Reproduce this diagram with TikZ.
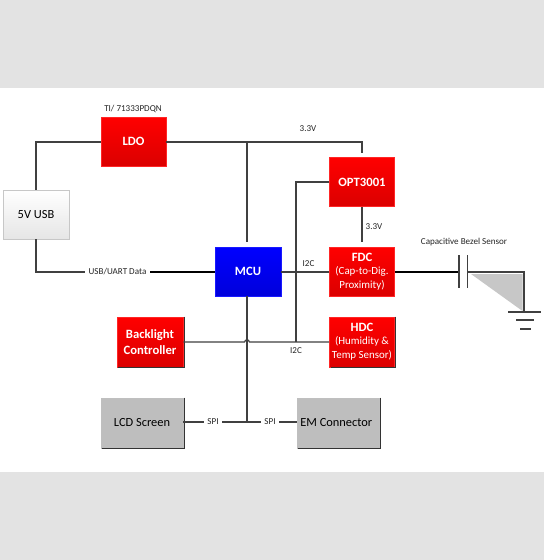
\documentclass[tikz,border=0pt]{standalone}
\usepackage{fontspec}
\setmainfont{Carlito}
\usetikzlibrary{calc}
\definecolor{bandgray}{HTML}{E3E3E3}
\definecolor{wire}{HTML}{404040}
\definecolor{boxgray}{HTML}{BEBEBE}
\newcommand{\redsubfont}{\fontsize{8.2}{10}\selectfont\mdseries}
\tikzset{
  x=0.75pt,y=-0.75pt,
  wirepath/.style={draw=wire,line width=0.9pt},
  redbox/.style={draw=red!85!white,line width=0.4pt,top color=red,bottom color=red!86!black,text=white,font=\fontsize{9.5}{11.4}\selectfont\bfseries,align=center,inner sep=0pt,anchor=center},
  graybox/.style={draw=black!25,line width=0.6pt,fill=boxgray,text=black,font=\fontsize{9.3}{11}\selectfont,align=center,inner sep=0pt},
  whitebox/.style={draw=black!22,line width=0.5pt,top color=white,bottom color=black!10,text=black,font=\fontsize{9.3}{11}\selectfont,align=center,inner sep=0pt},
  edgeshadow/.style={draw=black!80,line width=0.8pt},
  wirelabel/.style={font=\fontsize{6.8}{8}\selectfont,text=black!85,inner sep=0pt},
  bandfill/.style={fill=bandgray,draw=none}
}
\begin{document}
\begin{tikzpicture}
\useasboundingbox (0,0) rectangle (544,560);
\fill[white] (0,0) rectangle (544,560);
\fill[bandfill] (0,0) rectangle (544,88);
\fill[bandfill] (0,472) rectangle (544,560);

% boxes
\node[redbox,minimum width=48.75pt,minimum height=36.75pt] (ldo) at (133.5,141.5) {LDO};
\node[whitebox,minimum width=49.5pt,minimum height=36.75pt] (usb) at (36,214.5) {5V USB};
\node[draw=blue!90!white,line width=0.4pt,top color=blue,bottom color=blue!86!black,text=white,font=\fontsize{9.5}{11.4}\selectfont\bfseries,inner sep=0pt,minimum width=49.5pt,minimum height=36.75pt] (mcu) at (248,271.5) {MCU};
\node[redbox,minimum width=48.75pt,minimum height=36.75pt] (opt) at (362,182) {OPT3001};
\node[redbox,minimum width=48.75pt,minimum height=36.75pt] (fdc) at (362,271.5) {FDC\\[-1.5pt]{\redsubfont(Cap-to-Dig.}\\[-1pt]{\redsubfont Proximity)}};
\node[redbox,minimum width=48.75pt,minimum height=37.5pt] (hdc) at (362,342) {HDC\\[-1.5pt]{\redsubfont(Humidity \&}\\[-1pt]{\redsubfont Temp Sensor)}};
\node[redbox,minimum width=49.5pt,minimum height=37.5pt] (back) at (150,342) {Backlight\\Controller};
\node[graybox,minimum width=61.5pt,minimum height=37.5pt] (lcd) at (142,423) {LCD Screen};
\node[graybox,minimum width=61.5pt,minimum height=37.5pt] (em) at (338,423) {EM Connector\hspace{2.5pt}};

% shadows
\draw[edgeshadow] (back.north east) ++(0.8,0) -- ++(0,50.6) -- ++(-66,0);
\draw[edgeshadow] (hdc.north east) ++(0.8,0) -- ++(0,50.6) -- ++(-65,0);
\draw[edgeshadow] (lcd.north east) ++(0.8,0) -- ++(0,50.6) -- ++(-82,0);
\draw[edgeshadow] (em.north east) ++(0.8,0) -- ++(0,50.6) -- ++(-82,0);

% free ends
\coordinate (j1) at (247,142);
\coordinate (j2) at (362,142);
\coordinate (j3) at (362,153);
\coordinate (m1) at (247,242);
\coordinate (k1) at (296,182);
\coordinate (k2) at (296,342);
\coordinate (o2) at (362,242);
\coordinate (s1) at (247,422);
\coordinate (u1) at (36,272);
\coordinate (pa) at (459,272);
\coordinate (pb) at (467,272);
\coordinate (g0) at (524,272);
\coordinate (g1) at (524,312);

% sensor fill
\fill[black!22] (471,274) -- (522.5,274) -- (522.5,311) -- cycle;

% wires
\draw[wirepath] (usb.north) -- (36,142) -- (ldo.west |- j1);
\draw[wirepath] (ldo.east |- j1) -- (j1) -- (j2) -- (j3);
\draw[wirepath] (j1) -- (m1);
\draw[wirepath] (opt.west) -- (k1) -- (k2);
\draw[wirepath] (opt.south) -- (o2);
\draw[wirepath] (mcu.east |- u1) -- (fdc.west |- u1);
\draw[wirepath] (usb.south) -- (u1) -- (85,272);
\draw[wirepath,draw=black] (150,272) -- (mcu.west |- u1);
\draw[wirepath] (back.east |- k2) -- (244.5,342) .. controls (245.5,339) and (248.5,339) .. (249.5,342) -- (hdc.west |- k2);
\draw[wirepath] (mcu.south -| s1) -- (s1);
\draw[wirepath] (lcd.east |- s1) -- (204,422);
\draw[wirepath] (222,422) -- (261,422);
\draw[wirepath] (279,422) -- (em.west |- s1);

% capacitor and ground
\draw[wirepath,draw=black] (fdc.east |- pa) -- (pa);
\draw[wirepath] (459,255) -- (459,288);
\draw[wirepath] (467.5,255) -- (467.5,288);
\draw[wirepath] (pb) -- (g0) -- (g1);
\draw[wirepath] (508,312) -- (541,312);
\draw[wirepath] (516,320) -- (534,320);
\draw[wirepath] (520,329) -- (531,329);

% labels
\node[wirelabel] (l0) at (133,109) {TI/ 71333PDQN};
\node[wirelabel] (l1) at (308,129) {3.3V};
\node[wirelabel] (l2) at (374,227) {3.3V};
\node[wirelabel] (l3) at (117.5,272) {USB/UART Data};
\node[wirelabel] (l4) at (308.5,263.5) {I2C};
\node[wirelabel] (l5) at (296,350.5) {I2C};
\node[wirelabel] (l6) at (213,422) {SPI};
\node[wirelabel] (l7) at (270,422) {SPI};
\node[wirelabel] (l8) at (464,242) {Capacitive Bezel Sensor};
\end{tikzpicture}
\end{document}
